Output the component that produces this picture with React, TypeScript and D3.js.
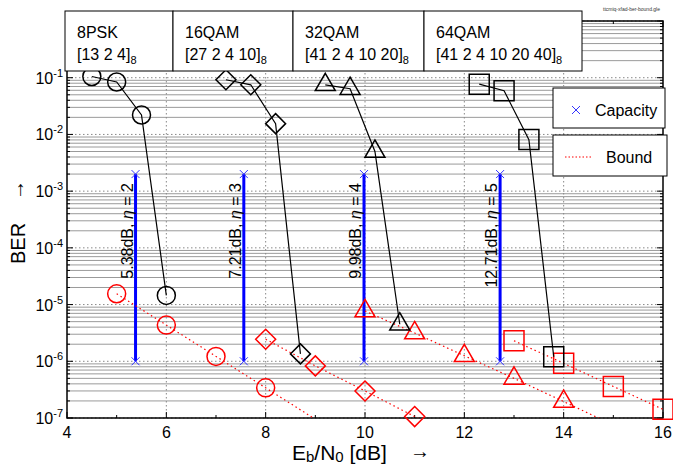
import * as d3 from 'd3';

// simulated BER (black) for the four mappings
const pskEb = [4.5, 5, 5.5, 6];
const pskBer = [1.05e-1, 8.4e-2, 2.2e-2, 1.45e-5];
const qam16Eb = [7.2, 7.7, 8.2, 8.7];
const qam16Ber = [9.2e-2, 7.5e-2, 1.55e-2, 1.35e-6];
const qam32Eb = [9.2, 9.7, 10.2, 10.7];
const qam32Ber = [7.5e-2, 6.4e-2, 5e-3, 4.5e-6];
const qam64Eb = [12.3, 12.8, 13.3, 13.8];
const qam64Ber = [7.7e-2, 5.9e-2, 8.1e-3, 1.2e-6];

// error-floor bounds (red)
const pskBoundEb = [5, 6, 7, 8, 9];
const pskBound = [1.55e-5, 4.35e-6, 1.22e-6, 3.4e-7, 9.5e-8];
const qam16BoundEb = [8, 9, 10, 11, 12];
const qam16Bound = [2.45e-6, 8.3e-7, 3.0e-7, 1.06e-7, 3.7e-8];
const qam32BoundEb = [10, 11, 12, 13, 14, 15];
const qam32Bound = [7.7e-6, 3.15e-6, 1.25e-6, 5e-7, 1.95e-7, 7.5e-8];
const qam64BoundEb = [13, 14, 15, 16];
const qam64Bound = [2.3e-6, 9.2e-7, 3.6e-7, 1.42e-7];

// capacity limits (position as drawn, label as printed)
const capacityEb = [5.38, 7.56, 9.98, 12.72];
const capacityLabels = ['5.38', '7.21', '9.98', '12.71'];
const capacityEta = [2, 3, 4, 5];
const capacityRange = [1e-6, 2e-3];

const boxTitles = ['8PSK', '16QAM', '32QAM', '64QAM'];
const boxMaps = ['[13 2 4]', '[27 2 4 10]', '[41 2 4 10 20]', '[41 2 4 10 20 40]'];
const boxEdges = [65, 173, 293, 424, 582];

const xTicks = [4, 6, 8, 10, 12, 14, 16];
const yExps = [-7, -6, -5, -4, -3, -2, -1];

const FONT = '"Liberation Sans", Arial, sans-serif';

type Shape = 'circle' | 'diamond' | 'triangle' | 'square';

function marker(shape: Shape, cx: number, cy: number): string {
  if (shape === 'circle') {
    const r = 9;
    return `M${cx - r},${cy}a${r},${r} 0 1,0 ${2 * r},0a${r},${r} 0 1,0 ${-2 * r},0Z`;
  }
  if (shape === 'diamond') {
    const h = 10;
    return `M${cx},${cy - h}L${cx + h},${cy}L${cx},${cy + h}L${cx - h},${cy}Z`;
  }
  if (shape === 'triangle') {
    const s = 10;
    const hh = 17.3;
    return `M${cx},${cy - hh * 2 / 3}L${cx + s},${cy + hh / 3}L${cx - s},${cy + hh / 3}Z`;
  }
  const s = 10;
  return `M${cx - s},${cy - s}h${2 * s}v${2 * s}h${-2 * s}Z`;
}

export default function App() {
  const W = 673, H = 465;
  const left = 67, right = 663, top = 21, bottom = 418;
  const x = d3.scaleLinear().domain([4, 16]).range([left, right]);
  const y = d3.scaleLog().domain([1e-7, 1]).range([bottom, top]);

  const line = d3.line<[number, number]>().x(d => x(d[0])).y(d => y(d[1]));

  const sims: { eb: number[]; ber: number[]; shape: Shape }[] = [
    { eb: pskEb, ber: pskBer, shape: 'circle' },
    { eb: qam16Eb, ber: qam16Ber, shape: 'diamond' },
    { eb: qam32Eb, ber: qam32Ber, shape: 'triangle' },
    { eb: qam64Eb, ber: qam64Ber, shape: 'square' },
  ];
  const bounds: { eb: number[]; ber: number[]; shape: Shape }[] = [
    { eb: pskBoundEb, ber: pskBound, shape: 'circle' },
    { eb: qam16BoundEb, ber: qam16Bound, shape: 'diamond' },
    { eb: qam32BoundEb, ber: qam32Bound, shape: 'triangle' },
    { eb: qam64BoundEb, ber: qam64Bound, shape: 'square' },
  ];

  const minor: number[] = [];
  for (let e = -7; e < 0; e++) for (let m = 2; m <= 9; m++) minor.push(m * Math.pow(10, e));
  const majors = d3.range(-7, 1).map(e => Math.pow(10, e));

  const inDomain = (eb: number, ber: number) => eb >= 4 && eb <= 16 && ber >= 1e-7 && ber <= 1;

  return (
    <svg width={W} height={H} style={{ position: 'absolute', left: 0, top: 0, background: '#fff' }} fontFamily={FONT}>
      <defs>
        <clipPath id="plot">
          <rect x={left} y={top} width={right - left} height={bottom - top} />
        </clipPath>
      </defs>

      {/* grid */}
      {minor.map((v, i) => (
        <line key={'mn' + i} x1={left} x2={right} y1={y(v)} y2={y(v)} stroke="#9a9a9a" strokeWidth={1} />
      ))}
      {majors.map((v, i) => (
        <line key={'mj' + i} x1={left} x2={right} y1={y(v)} y2={y(v)} stroke="#888" strokeWidth={1} strokeDasharray="1.5,2.5" />
      ))}
      {xTicks.slice(1, -1).map(v => (
        <line key={'vg' + v} x1={x(v)} x2={x(v)} y1={top} y2={bottom} stroke="#888" strokeWidth={1} strokeDasharray="1.5,2.5" />
      ))}

      {/* ticks */}
      {minor.map((v, i) => (
        <g key={'yt' + i} stroke="#000" strokeWidth={1}>
          <line x1={left} x2={left + 3} y1={y(v)} y2={y(v)} />
          <line x1={right} x2={right - 3} y1={y(v)} y2={y(v)} />
        </g>
      ))}
      {majors.map((v, i) => (
        <g key={'ytm' + i} stroke="#000" strokeWidth={1}>
          <line x1={left} x2={left + 6} y1={y(v)} y2={y(v)} />
          <line x1={right} x2={right - 6} y1={y(v)} y2={y(v)} />
        </g>
      ))}
      {d3.range(4, 17).map(v => (
        <g key={'xt' + v} stroke="#000" strokeWidth={1}>
          <line x1={x(v)} x2={x(v)} y1={bottom} y2={bottom - (v % 2 ? 3 : 6)} />
          <line x1={x(v)} x2={x(v)} y1={top} y2={top + (v % 2 ? 3 : 6)} />
        </g>
      ))}

      {/* frame */}
      <rect x={left} y={top} width={right - left} height={bottom - top} fill="none" stroke="#000" strokeWidth={1.5} />

      {/* capacity */}
      {capacityEb.map(c => (
        <g key={'cap' + c}>
          <line x1={x(c)} x2={x(c)} y1={y(capacityRange[0])} y2={y(capacityRange[1])} stroke="#0000ff" strokeWidth={3} />
          {capacityRange.map(v => (
            <path key={v} d={`M${x(c) - 4},${y(v) - 4}L${x(c) + 4},${y(v) + 4}M${x(c) - 4},${y(v) + 4}L${x(c) + 4},${y(v) - 4}`}
              stroke="#3333ff" strokeWidth={1} />
          ))}
        </g>
      ))}
      {capacityEb.map((c, i) => (
        <text key={'capt' + c} transform={`translate(${x(c) - 3},${y(capacityRange[1]) + 9}) rotate(-90)`}
          textAnchor="end" fontSize={16} fill="#000">
          {capacityLabels[i]}dB, <tspan fontStyle="italic">η</tspan> = {capacityEta[i]}
        </text>
      ))}

      {/* bounds */}
      <g clipPath="url(#plot)">
        {bounds.map((b, i) => (
          <path key={'bl' + i} d={line(b.eb.map((e, j) => [e, b.ber[j]] as [number, number])) || ''}
            fill="none" stroke="#ff0000" strokeWidth={1.2} strokeDasharray="1.5,3" />
        ))}
      </g>
      {bounds.map((b, i) => b.eb.map((e, j) => inDomain(e, b.ber[j]) ? (
        <path key={'bm' + i + '-' + j} d={marker(b.shape, x(e), y(b.ber[j]))} fill="none" stroke="#ff0000" strokeWidth={1.5} />
      ) : null))}

      {/* simulations */}
      {sims.map((s, i) => (
        <path key={'sl' + i} d={line(s.eb.map((e, j) => [e, s.ber[j]] as [number, number])) || ''}
          fill="none" stroke="#000" strokeWidth={1.2} />
      ))}
      {sims.map((s, i) => s.eb.map((e, j) => (
        <path key={'sm' + i + '-' + j} d={marker(s.shape, x(e), y(s.ber[j]))} fill="none" stroke="#000" strokeWidth={1.5} />
      )))}

      {/* mapping boxes */}
      {boxTitles.map((t, i) => (
        <g key={'box' + i}>
          <rect x={boxEdges[i]} y={11} width={boxEdges[i + 1] - boxEdges[i]} height={60} fill="#fff" stroke="#000" strokeWidth={1} />
          <text x={boxEdges[i] + 12} y={38} fontSize={16}>{t}</text>
          <text x={boxEdges[i] + 12} y={60} fontSize={16}>
            {boxMaps[i]}<tspan fontSize={11} dy={4}>8</tspan>
          </text>
        </g>
      ))}
      <text x={660} y={11} fontSize={5} textAnchor="end" fill="#333">ttcmiq-xfad-ber-bound.gle</text>

      {/* legend */}
      <rect x={553} y={88} width={112} height={40} fill="#fff" stroke="#000" strokeWidth={1} />
      <path d="M572,106L580,114M572,114L580,106" stroke="#3333ff" strokeWidth={1} />
      <text x={595} y={116} fontSize={16}>Capacity</text>
      <rect x={553} y={135} width={114} height={41} fill="#fff" stroke="#000" strokeWidth={1} />
      <line x1={565} x2={593} y1={157} y2={157} stroke="#ff0000" strokeWidth={1.2} strokeDasharray="1.5,2" />
      <text x={606} y={163} fontSize={16}>Bound</text>

      {/* axis labels */}
      {xTicks.map(v => (
        <text key={'xl' + v} x={x(v)} y={438} fontSize={16} textAnchor="middle">{v}</text>
      ))}
      {yExps.map(e => (
        <text key={'yl' + e} x={63} y={y(Math.pow(10, e)) + 6} fontSize={16} textAnchor="end">
          10<tspan fontSize={11} dy={-7}>{e}</tspan>
        </text>
      ))}
      <text x={292} y={460} fontSize={21}>
        E<tspan fontSize={15} dy={2}>b</tspan><tspan dy={-2}>/N</tspan><tspan fontSize={15} dy={2}>0</tspan><tspan dy={-2}> [dB]</tspan>
      </text>
      <text x={420} y={458} fontSize={20} textAnchor="middle">→</text>
      <text transform="translate(25,264) rotate(-90)" fontSize={20}>BER</text>
      <text transform="translate(24,190) rotate(-90)" fontSize={20} textAnchor="middle">→</text>
    </svg>
  );
}
